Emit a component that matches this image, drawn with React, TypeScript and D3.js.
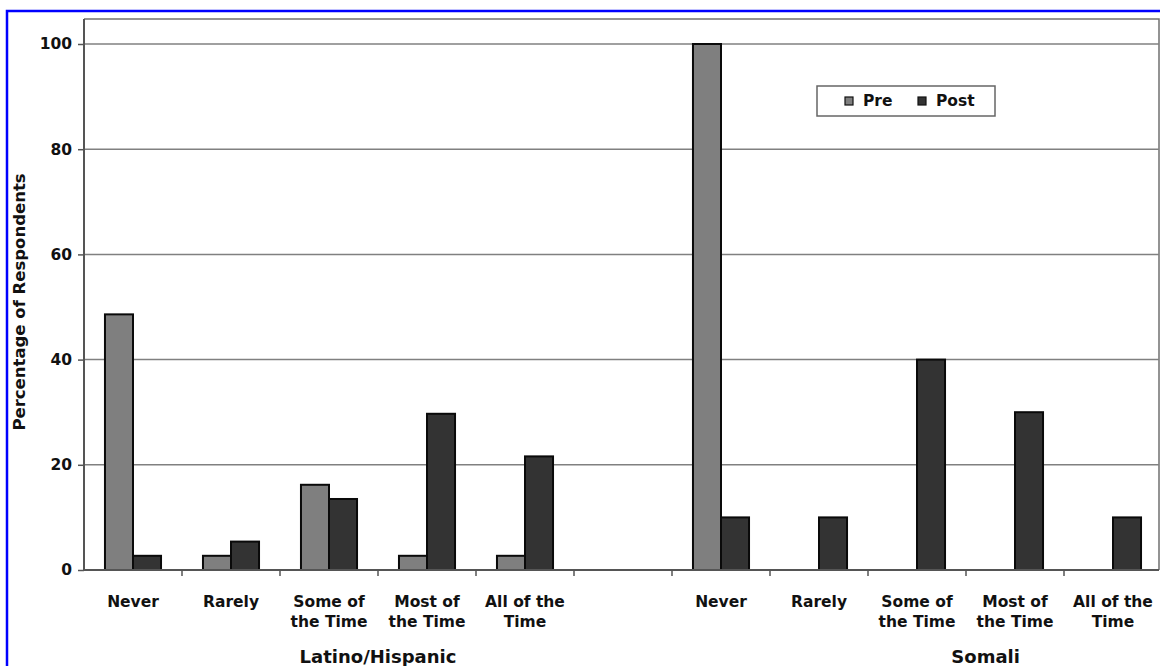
import React, { useEffect, useRef } from 'react';
import * as d3 from 'd3';

const categories = [
  'L-Never', 'L-Rarely', 'L-Some', 'L-Most', 'L-All', 'gap',
  'S-Never', 'S-Rarely', 'S-Some', 'S-Most', 'S-All',
];
const categoryLabels: string[][] = [
  ['Never'], ['Rarely'], ['Some of', 'the Time'], ['Most of', 'the Time'], ['All of the', 'Time'], [],
  ['Never'], ['Rarely'], ['Some of', 'the Time'], ['Most of', 'the Time'], ['All of the', 'Time'],
];
const seriesNames = ['Pre', 'Post'];
const preValues = [48.6, 2.7, 16.2, 2.7, 2.7, null, 100, 0, 0, 0, 0];
const postValues = [2.7, 5.4, 13.5, 29.7, 21.6, null, 10, 10, 40, 30, 10];
const groupNames = ['Latino/Hispanic', 'Somali'];
const yTicks = [0, 20, 40, 60, 80, 100];

const colors: Record<string, string> = { Pre: '#7f7f7f', Post: '#333333' };
const FONT = '"DejaVu Sans", Verdana, sans-serif';

const W = 1160;
const H = 666;
const left = 84;
const right = 1159;
const top = 19;
const bottom = 570;

export default function App() {
  const ref = useRef<SVGSVGElement>(null);

  useEffect(() => {
    const svg = d3.select(ref.current);
    svg.selectAll('*').remove();

    const x = d3.scaleBand<string>().domain(categories).range([left, 1162]);
    const bw = x.bandwidth();
    const x1 = d3.scaleBand<string>().domain(seriesNames).range([bw * 0.214, bw * 0.786]);
    const y = d3.scaleLinear().domain([0, 100]).range([bottom, 44]);

    svg.append('rect').attr('width', W).attr('height', H).attr('fill', '#fff');

    // blue frame
    svg.append('rect')
      .attr('x', 7).attr('y', 11).attr('width', W + 20).attr('height', H + 20)
      .attr('fill', 'none').attr('stroke', '#0000ff').attr('stroke-width', 2.5);

    // plot frame top/right
    svg.append('path')
      .attr('d', `M${left},${top}H${right}V${bottom}`)
      .attr('fill', 'none').attr('stroke', '#707070').attr('stroke-width', 1.5);

    // gridlines
    svg.append('g').selectAll('line')
      .data(yTicks.filter((t) => t > 0))
      .join('line')
      .attr('x1', left).attr('x2', right)
      .attr('y1', (d) => y(d)).attr('y2', (d) => y(d))
      .attr('stroke', '#808080').attr('stroke-width', 1.5);

    // bars
    const rows = categories.map((c, i) => ({ c, i, Pre: preValues[i], Post: postValues[i] }));
    const barG = svg.append('g');
    seriesNames.forEach((s) => {
      barG.selectAll(`rect.${s}`)
        .data(rows.filter((r) => r[s as 'Pre' | 'Post'] && (r[s as 'Pre' | 'Post'] as number) > 0))
        .join('rect')
        .attr('class', s)
        .attr('x', (r) => (x(r.c) as number) + (x1(s) as number))
        .attr('y', (r) => y(r[s as 'Pre' | 'Post'] as number))
        .attr('width', x1.bandwidth())
        .attr('height', (r) => bottom - y(r[s as 'Pre' | 'Post'] as number))
        .attr('fill', colors[s])
        .attr('stroke', '#0a0a0a')
        .attr('stroke-width', 2);
    });

    // y axis
    const yAxis = svg.append('g')
      .attr('transform', `translate(${left},0)`)
      .call(d3.axisLeft(y).tickValues(yTicks).tickSize(6).tickPadding(6).tickFormat(d3.format('d')));
    yAxis.select('.domain').attr('stroke', '#555').attr('stroke-width', 2).attr('d', `M0,${top}V${bottom}`);
    yAxis.selectAll('.tick line').attr('stroke', '#555').attr('stroke-width', 1.5);
    yAxis.selectAll('.tick text')
      .attr('font-family', FONT).attr('font-size', 15.5).attr('font-weight', 'bold').attr('fill', '#111');

    // x axis
    const xAxis = svg.append('g');
    xAxis.append('line')
      .attr('x1', left).attr('x2', right).attr('y1', bottom).attr('y2', bottom)
      .attr('stroke', '#555').attr('stroke-width', 2);
    xAxis.selectAll('line.tk')
      .data(categories.slice(1))
      .join('line')
      .attr('class', 'tk')
      .attr('x1', (c) => x(c) as number).attr('x2', (c) => x(c) as number)
      .attr('y1', bottom).attr('y2', bottom + 6)
      .attr('stroke', '#555').attr('stroke-width', 1.5);

    const labG = svg.append('g')
      .attr('font-family', FONT).attr('font-size', 15.5).attr('font-weight', 'bold')
      .attr('fill', '#111').attr('text-anchor', 'middle');
    categories.forEach((c, i) => {
      categoryLabels[i].forEach((line, j) => {
        labG.append('text')
          .attr('x', (x(c) as number) + bw / 2)
          .attr('y', 607 + j * 20)
          .text(line);
      });
    });

    // group labels
    const groupX = [
      (x('L-Never') as number) + bw * 3,
      (x('S-Never') as number) + bw * 3.2,
    ];
    svg.append('g').selectAll('text')
      .data(groupNames)
      .join('text')
      .attr('x', (_, i) => groupX[i])
      .attr('y', 663)
      .attr('text-anchor', 'middle')
      .attr('font-family', FONT).attr('font-size', 18).attr('font-weight', 'bold').attr('fill', '#111')
      .text((d) => d);

    // y title
    svg.append('text')
      .attr('transform', 'translate(25,302) rotate(-90)')
      .attr('text-anchor', 'middle')
      .attr('font-family', FONT).attr('font-size', 16.5).attr('font-weight', 'bold').attr('fill', '#111')
      .text('Percentage of Respondents');

    // legend
    const lg = svg.append('g').attr('transform', 'translate(817,86)');
    lg.append('rect').attr('width', 178).attr('height', 30)
      .attr('fill', '#fff').attr('stroke', '#666').attr('stroke-width', 1.5);
    const legendX = [28, 101];
    seriesNames.forEach((s, i) => {
      lg.append('rect')
        .attr('x', legendX[i]).attr('y', 11).attr('width', 8).attr('height', 8)
        .attr('fill', colors[s]).attr('stroke', '#111').attr('stroke-width', 1.2);
      lg.append('text')
        .attr('x', legendX[i] + 18).attr('y', 20)
        .attr('font-family', FONT).attr('font-size', 15.5).attr('font-weight', 'bold').attr('fill', '#111')
        .text(s);
    });
  }, []);

  return (
    <svg
      ref={ref}
      width={W}
      height={H}
      style={{ position: 'absolute', left: 0, top: 0, display: 'block' }}
    />
  );
}
